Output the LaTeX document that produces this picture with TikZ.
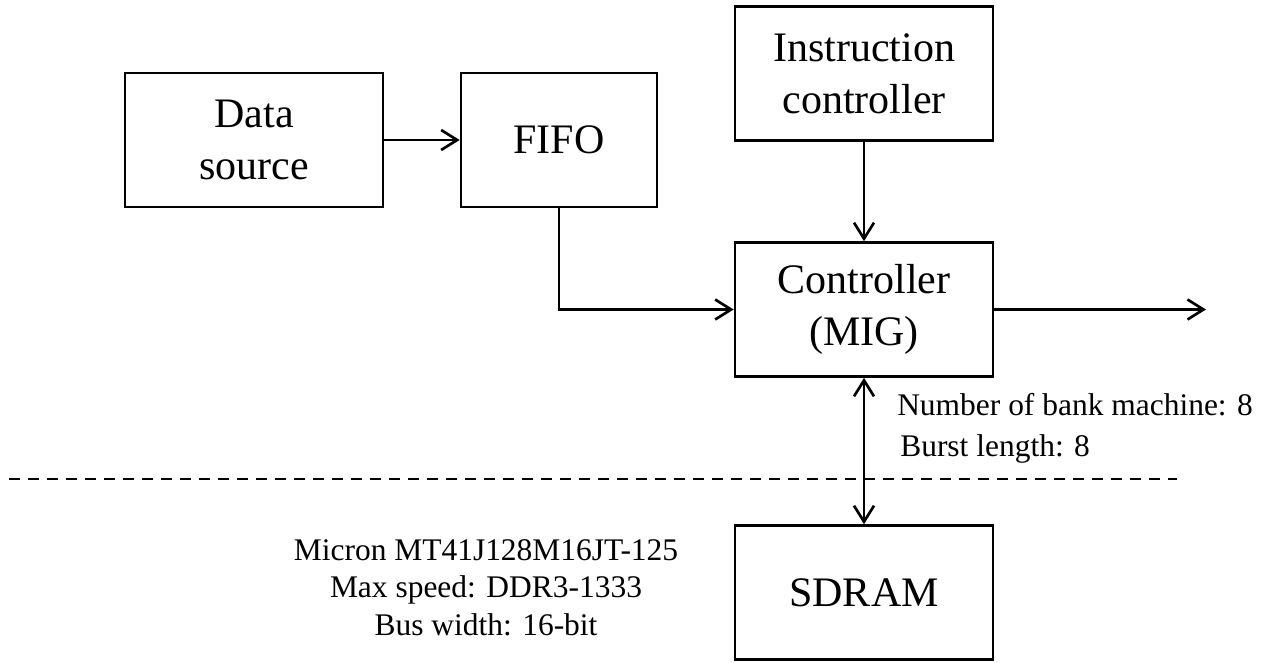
\documentclass[tikz,border=0pt]{standalone}
\usepackage{fontspec}
\setmainfont{Liberation Serif}
\usetikzlibrary{arrows.meta}
\begin{document}
\begin{tikzpicture}[x=0.75pt,y=-0.75pt,
  mytip/.tip={Straight Barb[length=12pt,width=15pt]},
  blk/.style={draw, line width=2pt, minimum width=193.5pt, minimum height=100.5pt,
    inner sep=0pt, align=center, font=\fontsize{31.5}{39}\selectfont},
  conn/.style={line width=2pt, -mytip},
  dconn/.style={line width=2pt, mytip-mytip},
  lbl/.style={font=\fontsize{23.6}{28}\selectfont, inner sep=0pt, anchor=base west},
  clbl/.style={font=\fontsize{23.6}{28}\selectfont, inner sep=0pt, anchor=base},
  sep/.style={line width=2pt, dash pattern=on 8.25pt off 6pt}]
\useasboundingbox (0,0) rectangle (1263,662);
\node[blk] (src) at (254,140) {Data\\source};
\node[blk, minimum width=147pt] (fifo) at (559,140) {FIFO};
\node[blk] (ins) at (864,73.5) {Instruction\\controller};
\node[blk] (ctl) at (864,309.5) {Controller\\(MIG)};
\node[blk] (ram) at (864,592.5) {SDRAM};
\coordinate (out) at (1206,309.5);
\coordinate (dl) at (9,479);
\coordinate (dr) at (1177,479);
\draw[conn] (src) -- (fifo);
\draw[conn] (fifo.south) |- (ctl.west);
\draw[conn] (ins) -- (ctl);
\draw[conn] (ctl.east) -- (out);
\draw[sep] (dl) -- (dr);
\draw[dconn] (ctl) -- (ram);
\node[lbl] (nbm) at (897,415) {Number of bank machine: 8};
\node[lbl] (bl) at (900,456) {Burst length: 8};
\node[clbl] (m1) at (486,560) {Micron MT41J128M16JT-125};
\node[clbl] (m2) at (486,597) {Max speed: DDR3-1333};
\node[clbl] (m3) at (486,635) {Bus width: 16-bit};
\end{tikzpicture}
\end{document}
